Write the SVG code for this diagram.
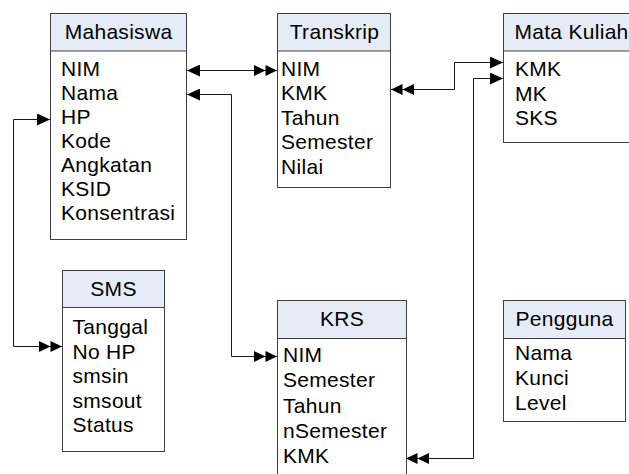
<svg xmlns="http://www.w3.org/2000/svg" width="629" height="474" viewBox="0 0 629 474">
<style>
.box{fill:#ffffff;stroke:#404040;stroke-width:1}
.hdr{fill:#e6ecf7;stroke:#404040;stroke-width:1}
.t{font-family:"Liberation Sans",Arial,sans-serif;font-size:21px;letter-spacing:0.3px;fill:#000}
.h{text-anchor:middle}
.c{fill:none;stroke:#1a1a1a;stroke-width:1}
</style>
<defs>
<marker id="a1" markerUnits="userSpaceOnUse" viewBox="0 0 13 12" refX="13" refY="6" markerWidth="13" markerHeight="12" orient="auto-start-reverse">
<path d="M0,0 L13,6 L0,12 Z" fill="#000"/>
</marker>
<marker id="a2" markerUnits="userSpaceOnUse" viewBox="0 0 23 12" refX="23" refY="6" markerWidth="23" markerHeight="12" orient="auto-start-reverse">
<path d="M0,0.5 L11.5,6 L0,11.5 Z M11.5,0.5 L23,6 L11.5,11.5 Z" fill="#000"/>
</marker>
</defs>
<rect width="629" height="474" fill="#ffffff"/>
<g id="mahasiswa">
<rect class="box" x="50.5" y="13.5" width="136" height="226"/>
<rect class="hdr" x="50.5" y="13.5" width="136" height="37.5"/>
<text class="t h" x="118.5" y="39">Mahasiswa</text>
<text class="t" x="61" y="76">NIM</text>
<text class="t" x="61" y="100">Nama</text>
<text class="t" x="61" y="124">HP</text>
<text class="t" x="61" y="148">Kode</text>
<text class="t" x="61" y="172">Angkatan</text>
<text class="t" x="61" y="196">KSID</text>
<text class="t" x="61" y="220">Konsentrasi</text>
</g>
<g id="transkrip">
<rect class="box" x="277.5" y="13.5" width="113" height="174"/>
<rect class="hdr" x="277.5" y="13.5" width="113" height="37.5"/>
<text class="t h" x="334.5" y="39">Transkrip</text>
<text class="t" x="281" y="75.5">NIM</text>
<text class="t" x="281" y="100">KMK</text>
<text class="t" x="281" y="124.5">Tahun</text>
<text class="t" x="281" y="149">Semester</text>
<text class="t" x="281" y="174">Nilai</text>
</g>
<g id="matakuliah">
<rect class="box" x="503.5" y="13.5" width="136" height="129"/>
<rect class="hdr" x="503.5" y="13.5" width="136" height="37.5"/>
<text class="t h" x="571.5" y="39">Mata Kuliah</text>
<text class="t" x="515" y="76">KMK</text>
<text class="t" x="515" y="100.5">MK</text>
<text class="t" x="515" y="125">SKS</text>
</g>
<g id="sms">
<rect class="box" x="62.5" y="270.5" width="102" height="181"/>
<rect class="hdr" x="62.5" y="270.5" width="102" height="37"/>
<text class="t h" x="113.5" y="296">SMS</text>
<text class="t" x="72.5" y="334">Tanggal</text>
<text class="t" x="72.5" y="358.5">No HP</text>
<text class="t" x="72.5" y="383">smsin</text>
<text class="t" x="72.5" y="407.5">smsout</text>
<text class="t" x="72.5" y="432">Status</text>
</g>
<g id="krs">
<rect class="box" x="277.5" y="300.5" width="129" height="200"/>
<rect class="hdr" x="277.5" y="300.5" width="129" height="38"/>
<text class="t h" x="342" y="326">KRS</text>
<text class="t" x="283" y="361.5">NIM</text>
<text class="t" x="283" y="387">Semester</text>
<text class="t" x="283" y="412.5">Tahun</text>
<text class="t" x="283" y="438">nSemester</text>
<text class="t" x="283" y="463">KMK</text>
</g>
<g id="pengguna">
<rect class="box" x="503.5" y="300.5" width="122" height="121"/>
<rect class="hdr" x="503.5" y="300.5" width="122" height="38"/>
<text class="t h" x="564.5" y="326">Pengguna</text>
<text class="t" x="515" y="360">Nama</text>
<text class="t" x="515" y="385">Kunci</text>
<text class="t" x="515" y="410">Level</text>
</g>
<g id="connectors">
<path class="c" d="M187,70.5 H277" marker-start="url(#a1)" marker-end="url(#a2)"/>
<path class="c" d="M187,94.5 H231.5 V356.5 H277" marker-start="url(#a1)" marker-end="url(#a2)"/>
<path class="c" d="M50,119.5 H13.5 V346.5 H62" marker-start="url(#a1)" marker-end="url(#a2)"/>
<path class="c" d="M391,89.5 H454.5 V62.5 H503" marker-start="url(#a2)" marker-end="url(#a1)"/>
<path class="c" d="M406,458.5 H473.5 V78.5 H503" marker-start="url(#a2)" marker-end="url(#a1)"/>
</g>
</svg>
